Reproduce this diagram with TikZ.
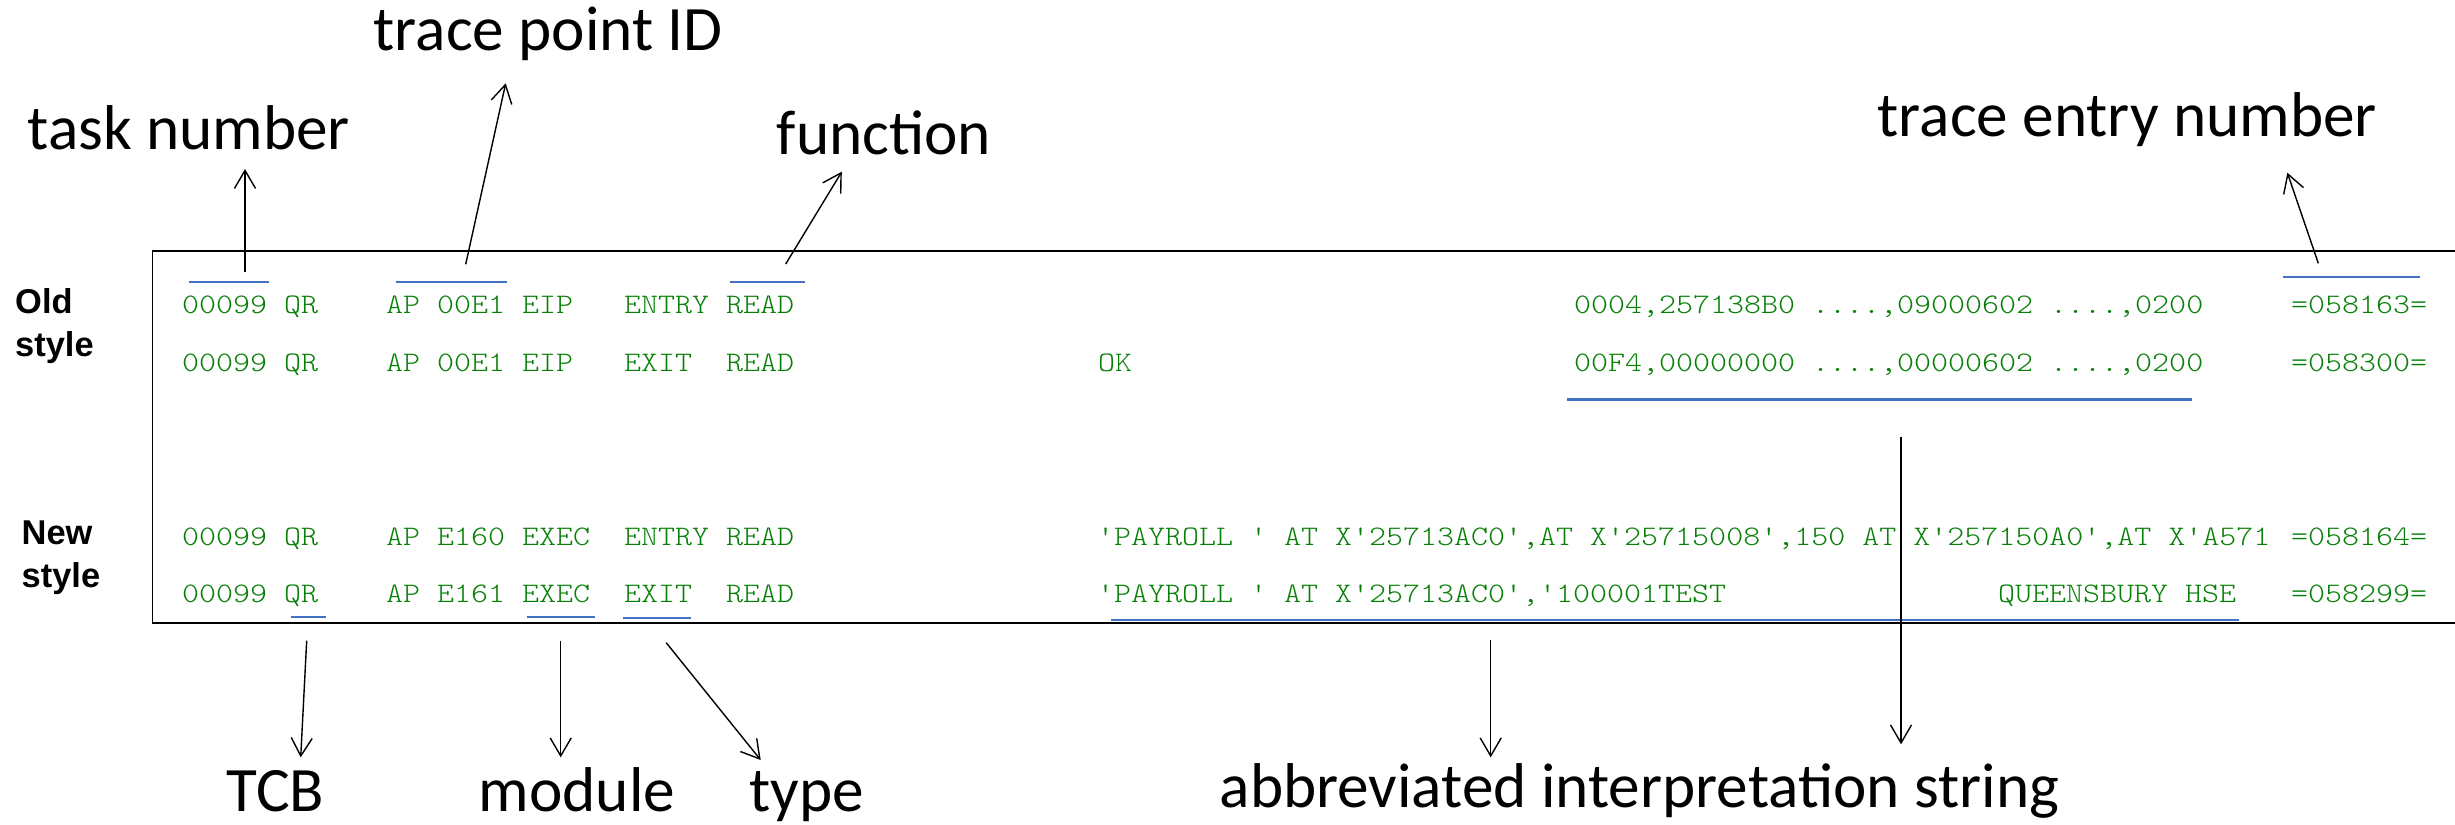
\documentclass[tikz,border=0pt]{standalone}
\usepackage{fontspec}
\setmonofont{lmmonolt10-regular.otf}[FakeStretch=1.145]
\newfontfamily\calib{Carlito}
\newfontfamily\arialf{Liberation Sans}
\usetikzlibrary{arrows.meta}
\definecolor{tracegreen}{RGB}{8,128,8}
\definecolor{ulblue}{RGB}{68,114,196}
\begin{document}
\begin{tikzpicture}[x=0.1mm,y=-0.1mm,
  mono/.style={font=\ttfamily\fontsize{8.05}{10}\selectfont\frenchspacing, text=tracegreen, anchor=base west, inner sep=0pt, outer sep=0pt},
  lab/.style={font=\calib\fontsize{18}{21.6}\selectfont, anchor=base west, inner sep=0pt},
  side/.style={font=\arialf\bfseries\fontsize{9.8}{12.35}\selectfont, anchor=base west, inner sep=0pt},
  arr/.style={draw=black, line width=0.4pt, -{Straight Barb[length=1.8mm,width=2.1mm,line width=0.4pt]}},
  ul/.style={draw=ulblue, line width=0.6pt},
  frame/.style={draw=black, line width=0.45pt}]
\useasboundingbox (0,0) rectangle (2455,824);

% frame (right side runs off the picture)
\draw[frame] (2455,250.7) -- (152.3,250.7) -- (152.3,623);
\draw[frame, line width=0.6pt] (152.3,623) -- (2455,623);

% side labels
\node[side] (old) at (14.5,313.3) {\vtop{\hbox{Old}\hbox{style}}};
\node[side] (new) at (21,544.3) {\vtop{\hbox{New}\hbox{style}}};

% trace lines
\node[mono] (r1a) at (182,313.3) {00099 QR~~~~AP 00E1 EIP~~~ENTRY READ};
\node[mono] (r1b) at (1574,313.3) {0004,257138B0 ....,09000602 ....,0200};
\node[mono] (r1c) at (2291,313.3) {=058163=};

\node[mono] (r2a) at (182,371) {00099 QR~~~~AP 00E1 EIP~~~EXIT~~READ};
\node[mono] (r2o) at (1098,371) {OK};
\node[mono] (r2b) at (1574,371) {00F4,00000000 ....,00000602 ....,0200};
\node[mono] (r2c) at (2291,371) {=058300=};

\node[mono] (r3a) at (182,545.5) {00099 QR~~~~AP E160 EXEC~~ENTRY READ};
\node[mono] (r3b) at (1097,545.5) {'PAYROLL ' AT X'25713AC0',AT X'25715008',150 AT X'257150A0',AT X'A571};
\node[mono] (r3c) at (2291,545.5) {=058164=};

\node[mono] (r4a) at (182,602.3) {00099 QR~~~~AP E161 EXEC~~EXIT~~READ};
\node[mono] (r4b) at (1097,602.3) {'PAYROLL ' AT X'25713AC0','100001TEST};
\node[mono] (r4q) at (1998,602.3) {QUEENSBURY HSE};
\node[mono] (r4c) at (2291,602.3) {=058299=};

% underlines
\draw[ul] (189,281.7) -- (269.3,281.7);
\draw[ul] (396,282.3) -- (506.7,282.3);
\draw[ul] (729.6,282.3) -- (805,282.3);
\draw[ul] (2283,277) -- (2420,277);
\draw[ul, line width=0.7pt] (1567,399.5) -- (2192,399.5);
\draw[ul] (290.7,616.7) -- (325.7,616.7);
\draw[ul] (526.7,617.3) -- (595.3,617.3);
\draw[ul] (623,618.3) -- (691,618.3);
\draw[ul] (1111,620.3) -- (2239,620.3);

% labels
\node[lab] (task) at (27,149) {task number};
\node[lab] (tpid) at (373,50.5) {trace point ID};
\node[lab] (func) at (776,154) {function};
\node[lab] (tent) at (1877,136.7) {trace entry number};
\node[lab] (tcb) at (226,811) {TCB};
\node[lab] (modl) at (478,811) {module};
\node[lab] (typ) at (748.5,811) {type};
\node[lab] (abbr) at (1219,807) {abbreviated interpretation string};

% connector end points
\coordinate (a1) at (245,272.3);   \coordinate (a2) at (245,169);
\coordinate (b1) at (465.7,264.3); \coordinate (b2) at (505.7,83.3);
\coordinate (c1) at (785.7,264);   \coordinate (c2) at (841.8,171.7);
\coordinate (d1) at (2318.3,263.3);\coordinate (d2) at (2287.3,172.7);
\coordinate (e1) at (306.7,640.7); \coordinate (e2) at (300.7,757.3);
\coordinate (f1) at (560.7,640.7); \coordinate (f2) at (560.7,757.3);
\coordinate (g1) at (666.2,642.7); \coordinate (g2) at (760.7,760);
\coordinate (h1) at (1490.7,640);  \coordinate (h2) at (1490.7,757.3);
\coordinate (i1) at (1901,437.3);  \coordinate (i2) at (1901,744.3);

\draw[arr] (a1) -- (a2);
\draw[arr] (b1) -- (b2);
\draw[arr] (c1) -- (c2);
\draw[arr] (d1) -- (d2);
\draw[arr] (e1) -- (e2);
\draw[arr] (f1) -- (f2);
\draw[arr] (g1) -- (g2);
\draw[arr] (h1) -- (h2);
\draw[arr] (i1) -- (i2);
\end{tikzpicture}
\end{document}
